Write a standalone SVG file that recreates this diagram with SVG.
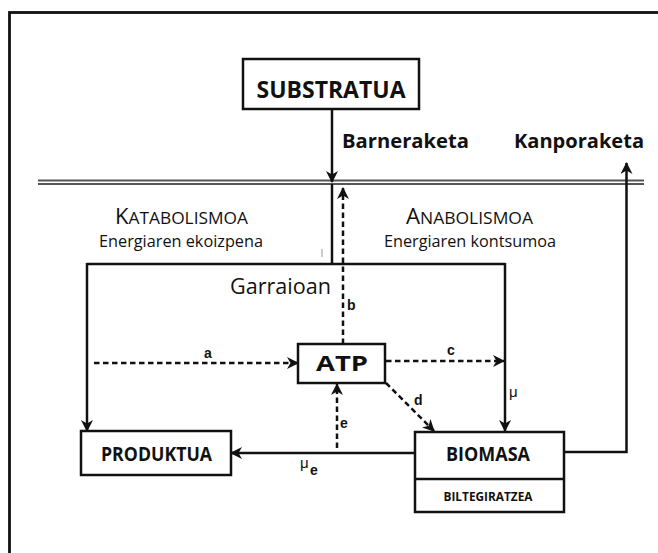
<svg xmlns="http://www.w3.org/2000/svg" width="658" height="553" viewBox="0 0 658 553">
<style>
.box{fill:#fff;stroke:#111;stroke-width:2.5}
.ln{fill:none;stroke:#111;stroke-width:2.5}
.dash{fill:none;stroke:#111;stroke-width:2.5;stroke-dasharray:5.5 3.5}
.t{font-family:"Open Sans","Liberation Sans",sans-serif;fill:#111}
.b{font-weight:700}
.lbl{font-family:"Liberation Sans",Arial,sans-serif;font-weight:700;font-size:14px;fill:#111}
.mu{font-family:"Liberation Sans",Arial,sans-serif;font-size:15px;fill:#111}
</style>
<defs>
<marker id="ah" viewBox="0 0 12 12" refX="11" refY="6" markerWidth="12" markerHeight="12" markerUnits="userSpaceOnUse" orient="auto">
<path d="M0,0 L12,6 L0,12 L3.5,6 z" fill="#111"/>
</marker>
</defs>
<rect width="658" height="553" fill="#fff"/>
<rect x="9.5" y="12.5" width="660" height="560" fill="none" stroke="#111" stroke-width="2.8"/>
<g id="membrane">
<line x1="38" y1="180.5" x2="644" y2="180.5" stroke="#555" stroke-width="2"/>
<line x1="38" y1="184" x2="644" y2="184" stroke="#555" stroke-width="2"/>
</g>
<g id="connectors">
<line class="ln" x1="332" y1="109" x2="332" y2="182" marker-end="url(#ah)"/>
<line class="ln" x1="332" y1="184" x2="332" y2="264"/>
<path class="ln" d="M87,264 L505,264"/>
<line class="ln" x1="87" y1="263" x2="87" y2="431" marker-end="url(#ah)"/>
<line class="ln" x1="505" y1="263" x2="505" y2="431" marker-end="url(#ah)"/>
<line class="ln" x1="415" y1="453" x2="231" y2="453" marker-end="url(#ah)"/>
<path class="ln" d="M564,452 L626.5,452 L626.5,163" marker-end="url(#ah)"/>
<line class="dash" x1="343" y1="344" x2="343" y2="188" marker-end="url(#ah)"/>
<line class="dash" x1="94" y1="363" x2="298" y2="363" marker-end="url(#ah)"/>
<line class="dash" x1="386" y1="361" x2="504" y2="361" marker-end="url(#ah)"/>
<line class="dash" x1="386" y1="383" x2="434" y2="431" marker-end="url(#ah)"/>
<line class="dash" x1="337" y1="448" x2="337" y2="384" marker-end="url(#ah)"/>
<line x1="322" y1="249" x2="322" y2="257" stroke="#999" stroke-width="1"/>
</g>
<g id="substratua">
<rect class="box" x="243" y="59" width="176" height="50"/>
<text class="t b" x="331" y="98" font-size="23" text-anchor="middle" textLength="149" lengthAdjust="spacingAndGlyphs">SUBSTRATUA</text>
</g>
<g id="labels-top">
<text class="t b" x="342" y="148" font-size="19.5" textLength="127" lengthAdjust="spacingAndGlyphs">Barneraketa</text>
<text class="t b" x="514" y="148" font-size="19.5" textLength="130" lengthAdjust="spacingAndGlyphs">Kanporaketa</text>
<text class="t" x="115" y="224" textLength="133" lengthAdjust="spacingAndGlyphs"><tspan font-size="21">K</tspan><tspan font-size="16.5">ATABOLISMOA</tspan></text>
<text class="t" x="99" y="247" font-size="16.5" textLength="164" lengthAdjust="spacingAndGlyphs">Energiaren ekoizpena</text>
<text class="t" x="406" y="224" textLength="127" lengthAdjust="spacingAndGlyphs"><tspan font-size="21">A</tspan><tspan font-size="16.5">NABOLISMOA</tspan></text>
<text class="t" x="384" y="247" font-size="16.5" textLength="172" lengthAdjust="spacingAndGlyphs">Energiaren kontsumoa</text>
<text class="t" x="230" y="294" font-size="21" textLength="101" lengthAdjust="spacingAndGlyphs">Garraioan</text>
</g>
<g id="atp">
<rect class="box" x="298" y="344" width="87" height="39"/>
<text class="t b" x="342" y="371" font-size="21" text-anchor="middle" textLength="52" lengthAdjust="spacingAndGlyphs">ATP</text>
</g>
<g id="produktua">
<rect class="box" x="81" y="431" width="150" height="44"/>
<text class="t b" x="156.5" y="461" font-size="19" text-anchor="middle" textLength="111" lengthAdjust="spacingAndGlyphs">PRODUKTUA</text>
</g>
<g id="biomasa">
<rect class="box" x="415" y="432" width="149" height="80"/>
<line class="ln" x1="415" y1="479" x2="564" y2="479"/>
<text class="t b" x="488" y="461" font-size="20" text-anchor="middle" textLength="84" lengthAdjust="spacingAndGlyphs">BIOMASA</text>
<text class="t b" x="488" y="501" font-size="12.5" text-anchor="middle" textLength="89" lengthAdjust="spacingAndGlyphs">BILTEGIRATZEA</text>
</g>
<g id="edge-labels">
<text class="lbl" x="204" y="358">a</text>
<text class="lbl" x="347" y="310">b</text>
<text class="lbl" x="447" y="355">c</text>
<text class="lbl" x="414" y="405">d</text>
<text class="lbl" x="340" y="428">e</text>
<text class="mu" x="509" y="397">μ</text>
<text class="mu" x="300" y="468">μ</text>
<text class="lbl" x="310" y="475" font-size="11">e</text>
</g>
</svg>
